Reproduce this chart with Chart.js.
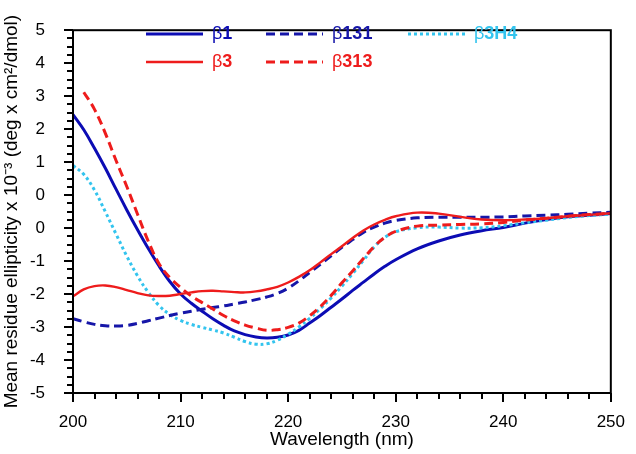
<!DOCTYPE html>
<html lang="en">
<head>
<meta charset="UTF-8">
<title>CD spectra</title>
<script src="https://cdn.jsdelivr.net/npm/chart.js"></script>
<style>
  html, body { margin: 0; padding: 0; background: #fff; }
  #wrap { width: 636px; height: 454px; }
</style>
</head>
<body>
<div id="wrap"><canvas id="cdChart"></canvas></div>
<script>
// wavelength grid (nm)
const wavelengths = [200, 201, 202, 203, 204, 205, 206, 207, 208, 209,
  210, 211, 212, 213, 214, 215, 216, 217, 218, 219,
  220, 221, 222, 223, 224, 225, 226, 227, 228, 229,
  230, 232, 234, 236, 238, 240, 242, 244, 246, 248, 250];

// values, in axis units (axis runs -6 .. 5)
const beta1 = [2.44, 1.98, 1.42, 0.82, 0.18, -0.45, -1.05, -1.62, -2.15, -2.62,
  -3.00, -3.28, -3.52, -3.75, -3.95, -4.12, -4.23, -4.30, -4.33, -4.31,
  -4.24, -4.10, -3.88, -3.65, -3.40, -3.15, -2.89, -2.64, -2.39, -2.16,
  -1.96, -1.63, -1.39, -1.21, -1.08, -0.98, -0.85, -0.74, -0.66, -0.61, -0.56];
const beta3 = [-3.07, -2.86, -2.76, -2.74, -2.79, -2.88, -2.97, -3.04, -3.06, -3.05,
  -3.00, -2.95, -2.91, -2.90, -2.92, -2.94, -2.95, -2.92, -2.86, -2.78,
  -2.65, -2.48, -2.28, -2.04, -1.79, -1.55, -1.30, -1.07, -0.89, -0.75,
  -0.64, -0.53, -0.56, -0.66, -0.74, -0.76, -0.74, -0.70, -0.64, -0.60, -0.55];
const beta131 = [-3.75, -3.84, -3.92, -3.96, -3.97, -3.95, -3.89, -3.81, -3.73, -3.65,
  -3.58, -3.52, -3.46, -3.41, -3.36, -3.30, -3.24, -3.17, -3.09, -2.98,
  -2.82, -2.60, -2.35, -2.10, -1.84, -1.58, -1.35, -1.13, -0.97, -0.85,
  -0.77, -0.69, -0.67, -0.67, -0.67, -0.66, -0.63, -0.61, -0.58, -0.55, -0.52];
const beta313 = [null, 3.12, 2.60, 1.88, 1.05, 0.26, -0.58, -1.40, -2.08, -2.50,
  -2.80, -3.06, -3.26, -3.45, -3.65, -3.81, -3.94, -4.03, -4.10, -4.08,
  -4.01, -3.88, -3.66, -3.38, -3.04, -2.66, -2.30, -1.92, -1.56, -1.28,
  -1.10, -0.94, -0.91, -0.89, -0.87, -0.83, -0.76, -0.70, -0.64, -0.59, -0.55];
const beta3H4 = [0.90, 0.63, 0.15, -0.50, -1.18, -1.85, -2.45, -2.95, -3.35, -3.62,
  -3.80, -3.92, -4.01, -4.09, -4.18, -4.31, -4.44, -4.52, -4.51, -4.40,
  -4.22, -4.00, -3.74, -3.44, -3.12, -2.76, -2.38, -1.98, -1.57, -1.28,
  -1.11, -0.99, -0.97, -1.00, -0.99, -0.93, -0.84, -0.76, -0.68, -0.62, -0.58];

// y tick labels as printed on the original axis (bottom to top)
const yTickLabels = ['-5', '-4', '-3', '-2', '-1', '0', '0', '1', '2', '3', '4', '5'];

const FONT = "'Liberation Sans', Arial, sans-serif";

function series(label, values, color, width, dash, slot) {
  return {
    label: label,
    data: wavelengths.map((w, i) => ({ x: w, y: values[i] })),
    borderColor: color,
    borderWidth: width,
    borderDash: dash,
    pointRadius: 0,
    fill: false,
    tension: 0.4,
    spanGaps: false,
    legendSlot: slot
  };
}

// outward ticks (major + minor) and the box frame
const frameTicks = {
  id: 'frameTicks',
  afterDraw(chart) {
    const ctx = chart.ctx;
    const a = chart.chartArea;
    const xs = chart.scales.x, ys = chart.scales.y;
    ctx.save();
    ctx.strokeStyle = '#000';
    ctx.lineWidth = 2;
    ctx.beginPath();
    for (let v = 200; v <= 250; v += 2) {
      const px = Math.round(xs.getPixelForValue(v));
      const len = v % 10 === 0 ? 9 : 6;
      ctx.moveTo(px, a.bottom);
      ctx.lineTo(px, a.bottom + len);
    }
    for (let v = -6; v <= 5.001; v += 0.25) {
      const py = Math.round(ys.getPixelForValue(v));
      const len = Math.abs(v - Math.round(v)) < 0.01 ? 9 : 6;
      ctx.moveTo(a.left, py);
      ctx.lineTo(a.left - len, py);
    }
    ctx.stroke();
    ctx.strokeRect(a.left, a.top, a.right - a.left, a.bottom - a.top);
    ctx.restore();
  }
};

// two-row legend inside the plot, "β" plain and the rest bold
const insideLegend = {
  id: 'insideLegend',
  afterDraw(chart) {
    const ctx = chart.ctx;
    const colX = [146, 266, 408];
    const rowY = [34, 62];
    const lineLen = 57, gap = 9;
    ctx.save();
    chart.data.datasets.forEach(ds => {
      const [r, c] = ds.legendSlot;
      const x = colX[c], y = rowY[r];
      ctx.strokeStyle = ds.borderColor;
      ctx.lineWidth = Math.max(ds.borderWidth, 2.5);
      ctx.setLineDash(ds.borderDash || []);
      ctx.beginPath();
      ctx.moveTo(x, y);
      ctx.lineTo(x + lineLen, y);
      ctx.stroke();
      ctx.setLineDash([]);
      ctx.fillStyle = ds.borderColor;
      ctx.textBaseline = 'middle';
      ctx.textAlign = 'left';
      let tx = x + lineLen + gap;
      ctx.font = 'normal 18px ' + FONT;
      ctx.fillText(ds.label[0], tx, y);
      tx += ctx.measureText(ds.label[0]).width;
      ctx.font = 'bold 18px ' + FONT;
      ctx.fillText(ds.label.slice(1), tx, y);
    });
    ctx.restore();
  }
};

new Chart(document.getElementById('cdChart'), {
  type: 'line',
  data: {
    datasets: [
      series('β3', beta3, '#ee1c1c', 2.4, [], [1, 0]),
      series('β313', beta313, '#ee1c1c', 3, [9, 5], [1, 1]),
      series('β131', beta131, '#1616a8', 3, [9, 5], [0, 1]),
      series('β3H4', beta3H4, '#33c4ee', 3, [3, 3], [0, 2]),
      series('β1', beta1, '#0c0cb4', 3, [], [0, 0])
    ]
  },
  options: {
    responsive: true,
    maintainAspectRatio: false,
    animation: false,
    layout: { padding: { top: 10, right: 15, left: 0, bottom: 0 } },
    plugins: {
      legend: { display: false },
      tooltip: { enabled: false }
    },
    scales: {
      x: {
        type: 'linear',
        min: 200,
        max: 250,
        ticks: {
          stepSize: 10,
          padding: 11,
          color: '#000',
          font: { family: FONT, size: 17 }
        },
        grid: { display: false },
        border: { display: false },
        title: {
          display: true,
          text: 'Wavelength (nm)',
          color: '#000',
          font: { family: FONT, size: 19 },
          padding: { top: 0, bottom: 3 }
        },
        afterFit(scale) { scale.height = 61; }
      },
      y: {
        type: 'linear',
        min: -6,
        max: 5,
        ticks: {
          stepSize: 1,
          padding: 20,
          color: '#000',
          font: { family: FONT, size: 17 },
          callback: (value, index) => yTickLabels[index]
        },
        grid: { display: false },
        border: { display: false },
        title: {
          display: true,
          text: 'Mean residue ellipticity x 10⁻³ (deg x cm²/dmol)',
          color: '#000',
          font: { family: FONT, size: 19 },
          padding: { top: 0, bottom: 0 }
        },
        afterFit(scale) { scale.width = 73; }
      }
    }
  },
  plugins: [frameTicks, insideLegend]
});
</script>
</body>
</html>
